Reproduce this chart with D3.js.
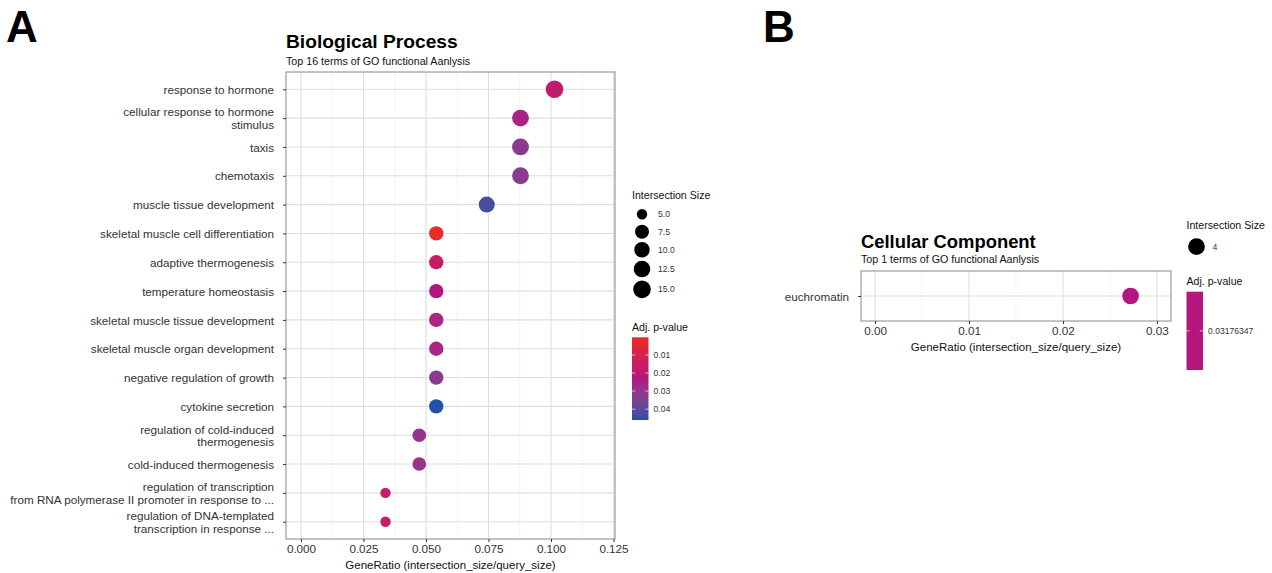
<!DOCTYPE html>
<html>
<head>
<meta charset="utf-8">
<script src="https://cdn.jsdelivr.net/npm/d3@7"></script>
<style>
  body { margin: 0; background: #fff; }
  svg { display: block; font-family: "Liberation Sans", Arial, sans-serif; }
</style>
</head>
<body>
<div id="chart"></div>
<script>
// Biological Process (panel A)
const bpTerms = [
    "response to hormone",
    "cellular response to hormone\nstimulus",
    "taxis",
    "chemotaxis",
    "muscle tissue development",
    "skeletal muscle cell differentiation",
    "adaptive thermogenesis",
    "temperature homeostasis",
    "skeletal muscle tissue development",
    "skeletal muscle organ development",
    "negative regulation of growth",
    "cytokine secretion",
    "regulation of cold-induced\nthermogenesis",
    "cold-induced thermogenesis",
    "regulation of transcription\nfrom RNA polymerase II promoter in response to ...",
    "regulation of DNA-templated\ntranscription in response ..."
];
const bpRatio = [0.1014, 0.0878, 0.0878, 0.0878, 0.0743, 0.0541, 0.0541, 0.0541,
                 0.0541, 0.0541, 0.0541, 0.0541, 0.0473, 0.0473, 0.0338, 0.0338];
const bpSize = [15, 13, 13, 13, 11, 8, 8, 8, 8, 8, 8, 8, 7, 7, 5, 5];
const bpPadj = [0.0175, 0.0250, 0.0320, 0.0320, 0.0430, 0.0002, 0.0160, 0.0230,
                0.0255, 0.0255, 0.0320, 0.0460, 0.0290, 0.0290, 0.0170, 0.0170];
const bpTicks = [0, 0.025, 0.05, 0.075, 0.1, 0.125];
const bpSizeBreaks = [5, 7.5, 10, 12.5, 15];
const bpPadjBreaks = [0.01, 0.02, 0.03, 0.04];

// Cellular Component (panel B)
const ccTerms = ["euchromatin"];
const ccRatio = [0.0272];
const ccSize = [4];
const ccPadj = [0.03176347];
const ccTicks = [0, 0.01, 0.02, 0.03];
const ccSizeBreaks = [4];
const ccPadjBreaks = [0.03176347];

// low p -> red, high p -> blue
const pColors = ["#EA2C26", "#B3177F", "#2350A8"];

const width = 1272, height = 573;

const paramsA = {
    id: "A",
    tag: "A", tagX: 6, tagY: 41.5,
    title: "Biological Process", titleSize: 19.2,
    subtitle: "Top 16 terms of GO functional Aanlysis",
    titleY: 47.5, subtitleY: 65.3,
    panel: {left: 286, top: 72, right: 615, bottom: 539},
    xDomain: [-0.006, 0.1256],
    xFormat: ".3f",
    rRange: [5.2, 8.8],
    legend: {x: 632, sizeTitleY: 199.3, firstKeyY: 214.3, padjTitleY: 330.5, barTop: 337.3, barBottom: 420}
};

const paramsB = {
    id: "B",
    tag: "B", tagX: 763, tagY: 41.5,
    title: "Cellular Component", titleSize: 18.4,
    subtitle: "Top 1 terms of GO functional Aanlysis",
    titleY: 248.3, subtitleY: 263.3,
    panel: {left: 861, top: 271, right: 1171, bottom: 321},
    xDomain: [-0.0015, 0.0315],
    xFormat: ".2f",
    rRange: [5.9, 9.4],
    legend: {x: 1186.5, sizeTitleY: 229.3, firstKeyY: 246.7, padjTitleY: 285, barTop: 291.7, barBottom: 370}
};

const svg = d3.select("#chart")
    .append("svg")
    .attr("width", width)
    .attr("height", height)
    .attr("viewBox", `0 0 ${width} ${height}`);

svg.append("rect")
    .attr("width", width)
    .attr("height", height)
    .attr("fill", "#fff");

const defs = svg.append("defs");

// ggplot-like area scale: radius grows with sqrt of rescaled value
function sizeScale(values, rRange) {
    const t = d3.scaleLinear().domain(d3.extent(values)).clamp(true);
    return v => rRange[0] + (rRange[1] - rRange[0]) * Math.sqrt(t(v));
}

function drawPanel(params, terms, ratio, sizes, padj, ticks, sizeBreaks, padjBreaks) {
    const p = params.panel;
    const g = svg.append("g");

    const x = d3.scaleLinear()
        .domain(params.xDomain)
        .range([p.left, p.right]);

    const y = d3.scalePoint()
        .domain(terms)
        .range([p.top, p.bottom])
        .padding(0.6);

    const r = sizeScale(sizes, params.rRange);
    const color = d3.scaleSequential(d3.piecewise(d3.interpolateLab, pColors))
        .domain(d3.extent(padj));

    // tag letter, titles
    svg.append("text")
        .attr("x", params.tagX)
        .attr("y", params.tagY)
        .attr("font-size", 44)
        .attr("font-weight", "bold")
        .text(params.tag);

    g.append("text")
        .attr("x", p.left)
        .attr("y", params.titleY)
        .attr("font-size", params.titleSize)
        .attr("font-weight", "bold")
        .text(params.title);

    g.append("text")
        .attr("x", p.left)
        .attr("y", params.subtitleY)
        .attr("font-size", 10.7)
        .attr("fill", "#111")
        .text(params.subtitle);

    // grid
    const step = ticks[1] - ticks[0];
    const minor = [ticks[0] - step / 2, ...ticks.map(d => d + step / 2)]
        .filter(d => d > params.xDomain[0] && d < params.xDomain[1]);

    g.selectAll(".minor")
        .data(minor)
        .join("line")
        .attr("x1", d => x(d)).attr("x2", d => x(d))
        .attr("y1", p.top).attr("y2", p.bottom)
        .attr("stroke", "#EDEDED")
        .attr("stroke-width", 0.6);

    g.selectAll(".major")
        .data(ticks)
        .join("line")
        .attr("x1", d => x(d)).attr("x2", d => x(d))
        .attr("y1", p.top).attr("y2", p.bottom)
        .attr("stroke", "#DEDEDE")
        .attr("stroke-width", 1.1);

    g.selectAll(".hgrid")
        .data(terms)
        .join("line")
        .attr("x1", p.left).attr("x2", p.right)
        .attr("y1", d => y(d)).attr("y2", d => y(d))
        .attr("stroke", "#DEDEDE")
        .attr("stroke-width", 1.1);

    // points
    g.selectAll(".dot")
        .data(terms)
        .join("circle")
        .attr("cx", (d, i) => x(ratio[i]))
        .attr("cy", d => y(d))
        .attr("r", (d, i) => r(sizes[i]))
        .attr("fill", (d, i) => color(padj[i]));

    g.append("rect")
        .attr("x", p.left).attr("y", p.top)
        .attr("width", p.right - p.left)
        .attr("height", p.bottom - p.top)
        .attr("fill", "none")
        .attr("stroke", "#888")
        .attr("stroke-width", 1);

    // axes
    const xAxis = g.append("g")
        .attr("transform", `translate(0, ${p.bottom})`)
        .call(d3.axisBottom(x).tickValues(ticks).tickFormat(d3.format(params.xFormat)).tickSize(3).tickPadding(2.5));

    const yAxis = g.append("g")
        .attr("transform", `translate(${p.left}, 0)`)
        .call(d3.axisLeft(y).tickSize(3).tickPadding(9));

    [xAxis, yAxis].forEach(a => {
        a.select(".domain").remove();
        a.selectAll(".tick line").attr("stroke", "#333");
        a.selectAll(".tick text")
            .attr("fill", "#333")
            .attr("font-size", 11.7)
            .attr("font-family", null);
    });

    yAxis.selectAll(".tick text").each(function(d) {
        const lines = d.split("\n");
        const t = d3.select(this).text(null).attr("dy", null);
        lines.forEach((line, i) => {
            t.append("tspan")
                .attr("x", -12)
                .attr("dy", i === 0 ? `${0.35 - (lines.length - 1) * 0.54}em` : "1.08em")
                .text(line);
        });
    });

    g.append("text")
        .attr("x", (p.left + p.right) / 2)
        .attr("y", p.bottom + 29.7)
        .attr("text-anchor", "middle")
        .attr("font-size", 11.5)
        .attr("fill", "#111")
        .text("GeneRatio (intersection_size/query_size)");

    // legend: size
    const L = params.legend;
    const lg = svg.append("g");

    lg.append("text")
        .attr("x", L.x)
        .attr("y", L.sizeTitleY)
        .attr("font-size", 10.6)
        .attr("fill", "#111")
        .text("Intersection Size");

    const keyH = d => Math.max(17.4, 2 * r(d) + 3.2);
    let ky = L.firstKeyY;
    const keyY = sizeBreaks.map((d, i) => {
        if (i > 0) ky += (keyH(sizeBreaks[i - 1]) + keyH(d)) / 2;
        return ky;
    });

    lg.selectAll(".key")
        .data(sizeBreaks)
        .join("circle")
        .attr("cx", L.x + 10)
        .attr("cy", (d, i) => keyY[i])
        .attr("r", d => r(d))
        .attr("fill", "#000");

    lg.selectAll(".keylab")
        .data(sizeBreaks)
        .join("text")
        .attr("x", L.x + 26)
        .attr("y", (d, i) => keyY[i])
        .attr("dy", "0.35em")
        .attr("font-size", 8.6)
        .attr("fill", "#333")
        .text(d => sizeBreaks.length > 1 ? d3.format(".1f")(d) : d);

    // legend: colour bar
    lg.append("text")
        .attr("x", L.x)
        .attr("y", L.padjTitleY)
        .attr("font-size", 10.6)
        .attr("fill", "#111")
        .text("Adj. p-value");

    const barY = d3.scaleLinear()
        .domain(d3.extent(padj))
        .range([L.barTop, L.barBottom]);

    const grad = defs.append("linearGradient")
        .attr("id", `grad${params.id}`)
        .attr("x1", 0).attr("x2", 0)
        .attr("y1", 0).attr("y2", 1);

    const dom = color.domain();
    d3.range(0, 1.0001, 0.05).forEach(t => {
        grad.append("stop")
            .attr("offset", t)
            .attr("stop-color", color(dom[0] + (dom[1] - dom[0]) * t));
    });

    const barW = 16.5;
    lg.append("rect")
        .attr("x", L.x)
        .attr("y", L.barTop)
        .attr("width", barW)
        .attr("height", L.barBottom - L.barTop)
        .attr("fill", `url(#grad${params.id})`);

    padjBreaks.forEach(b => {
        [[L.x, L.x + 3.3], [L.x + barW - 3.3, L.x + barW]].forEach(([a, c]) => {
            lg.append("line")
                .attr("x1", a).attr("x2", c)
                .attr("y1", barY(b)).attr("y2", barY(b))
                .attr("stroke", "#fff")
                .attr("stroke-opacity", 0.8)
                .attr("stroke-width", 0.8);
        });
    });

    lg.selectAll(".barlab")
        .data(padjBreaks)
        .join("text")
        .attr("x", L.x + 21.5)
        .attr("y", d => barY(d))
        .attr("dy", "0.35em")
        .attr("font-size", 8.6)
        .attr("fill", "#333")
        .text(d => d);
}

drawPanel(paramsA, bpTerms, bpRatio, bpSize, bpPadj, bpTicks, bpSizeBreaks, bpPadjBreaks);
drawPanel(paramsB, ccTerms, ccRatio, ccSize, ccPadj, ccTicks, ccSizeBreaks, ccPadjBreaks);
</script>
</body>
</html>
